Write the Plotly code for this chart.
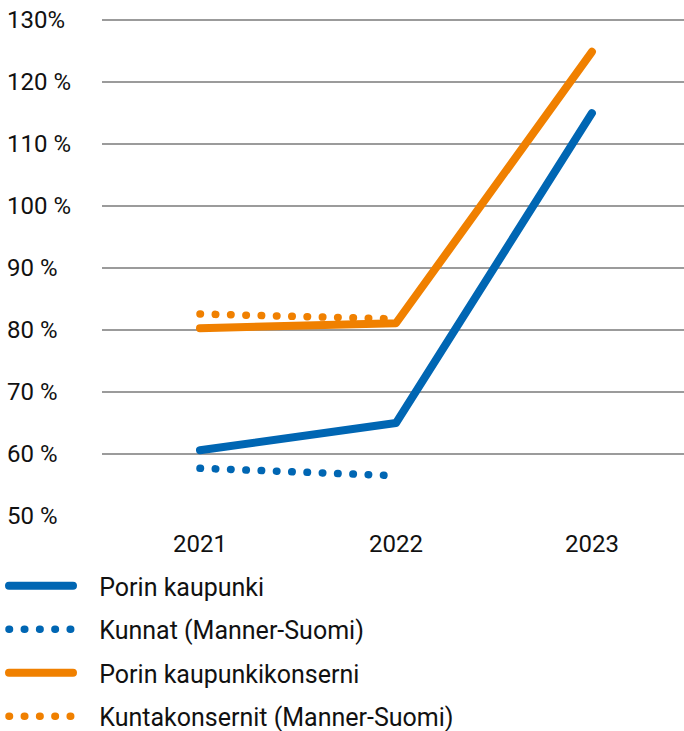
import plotly.graph_objects as go

years = ["2021", "2022", "2023"]
porin_kaupunki = [60.6, 65.0, 115.0]
kunnat = [57.7, 56.5, None]
porin_konserni = [80.3, 81.1, 124.9]
kuntakonsernit = [82.6, 81.8, None]

y_ticks = [50, 60, 70, 80, 90, 100, 110, 120, 130]
y_tick_labels = ["50 %", "60 %", "70 %", "80 %", "90 %", "100 %", "110 %", "120 %", "130%"]

BLUE = "#0066B3"
ORANGE = "#F08000"
FONT = "Roboto"
GAP = "\u2002\u2004"

fig = go.Figure()
series = [
    ("Porin kaupunki", porin_kaupunki, BLUE, "solid", 8),
    ("Kunnat (Manner-Suomi)", kunnat, BLUE, "0.5px,14.8px", 7.5),
    ("Porin kaupunkikonserni", porin_konserni, ORANGE, "solid", 8),
    ("Kuntakonsernit (Manner-Suomi)", kuntakonsernit, ORANGE, "0.5px,14.8px", 7.5),
]
for i, (name, vals, col, dash, w) in enumerate(series):
    fig.add_trace(go.Scatter(
        x=years, y=vals, name=GAP + name, mode="lines",
        line=dict(color=col, width=w, dash=dash),
        legendgroup=f"g{i}", hoverinfo="skip",
    ))

W, H = 684, 731
L, R, T, B = 102, 0, 19, 215
pw = W - L - R

annotations = []
for v, t in zip(y_ticks, y_tick_labels):
    annotations.append(dict(
        xref="paper", yref="y", x=-(L - 5) / pw, y=v, text=t,
        xanchor="left", yanchor="middle", showarrow=False,
        font=dict(family=FONT, size=24, color="#111"),
    ))

fig.update_layout(
    width=W, height=H,
    margin=dict(l=L, r=R, t=T, b=B, autoexpand=False),
    paper_bgcolor="white", plot_bgcolor="white",
    font=dict(family=FONT, size=24, color="#111"),
    xaxis=dict(
        type="category", range=[-0.5, 2.47], showgrid=False, zeroline=False,
        showline=False, ticks="", tickfont=dict(size=24), ticklabelstandoff=11,
    ),
    yaxis=dict(
        range=[50, 130.2], tickvals=y_ticks, showticklabels=False,
        showgrid=True, gridcolor="#9b9b9b", gridwidth=1.5, zeroline=False,
        showline=False,
    ),
    annotations=annotations,
    showlegend=True,
    legend=dict(
        xref="container", yref="container", x=4 / W, y=1 - 563 / H,
        xanchor="left", yanchor="top", traceorder="grouped",
        tracegroupgap=8, itemwidth=64, font=dict(family=FONT, size=25, color="#111"),
        bgcolor="rgba(0,0,0,0)",
    ),
)

post = ("var s=document.createElement('style');"
        "s.innerHTML='body{margin:0 !important;}.js-line{stroke-linecap:round !important;stroke-linejoin:round !important;}';"
        "document.head.appendChild(s);")
fig.write_html("out.html", post_script=post, config={"displayModeBar": False})
